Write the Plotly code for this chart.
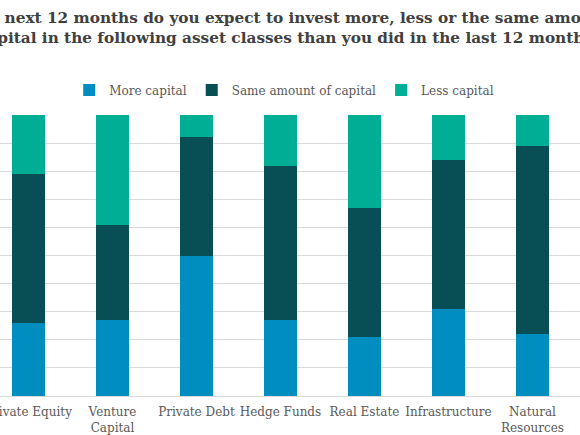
import plotly.graph_objects as go

# asset classes on the x axis
asset_classes = ['Private Equity', 'Venture<br>Capital', 'Private Debt', 'Hedge Funds',
                 'Real Estate', 'Infrastructure', 'Natural<br>Resources']

# share of respondents (%)
more_capital = [26, 27, 50, 27, 21, 31, 22]
same_capital = [53, 34, 42, 55, 46, 53, 67]
less_capital = [21, 39, 8, 18, 33, 16, 11]

title_text = ('In the next 12 months do you expect to invest more, less or the same amount of<br>'
              'capital in the following asset classes than you did in the last 12 months?')

font_family = "Georgia, 'DejaVu Serif', serif"

fig = go.Figure()
fig.add_trace(go.Bar(name='More capital', x=asset_classes, y=more_capital,
                     marker=dict(color='#008EC0', line=dict(width=0))))
fig.add_trace(go.Bar(name='Same amount of capital', x=asset_classes, y=same_capital,
                     marker=dict(color='#074F55', line=dict(width=0))))
fig.add_trace(go.Bar(name='Less capital', x=asset_classes, y=less_capital,
                     marker=dict(color='#00AE96', line=dict(width=0))))

fig.update_layout(
    width=580, height=435,
    barmode='stack', barnorm='percent', bargap=0.6,
    plot_bgcolor='white', paper_bgcolor='white',
    margin=dict(l=0, r=0, t=115, b=39, autoexpand=False),
    font=dict(family=font_family, color='#595959', size=12),
    title=dict(text=title_text, x=0.5, xanchor='center', y=0.948, yanchor='middle',
               yref='container', automargin=False,
               font=dict(family=font_family, size=15.3, color='#404040', weight='bold')),
    legend=dict(orientation='h', x=0.49, xanchor='center', y=1.089, yanchor='middle',
                font=dict(size=12, color='#595959'), traceorder='normal', itemwidth=30),
    showlegend=True,
)
fig.update_xaxes(range=[-0.339, 6.566], showgrid=False, showline=True, linecolor='#D9D9D9',
                 ticks='', tickangle=0, automargin=False, ticklabelstandoff=5,
                 tickfont=dict(size=12, color='#595959'))
fig.update_yaxes(range=[0, 100], dtick=10, showgrid=True, gridcolor='#D9D9D9',
                 showticklabels=False, zeroline=False, automargin=False, fixedrange=True)

# no page margin, so the figure sits at the window's top-left corner
fig.write_html("out.html", config={'displayModeBar': False},
               post_script="document.body.style.margin='0';")
